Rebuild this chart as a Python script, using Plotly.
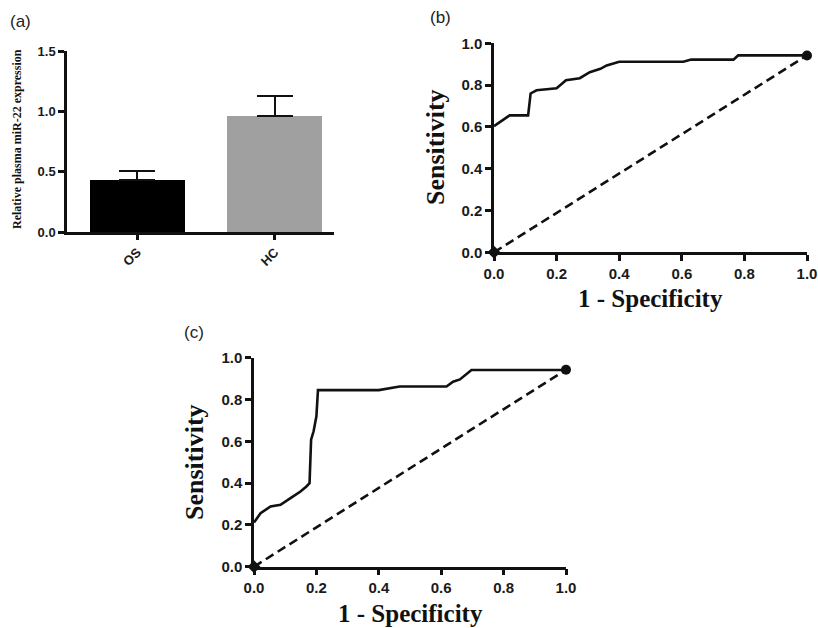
import plotly.graph_objects as go

# ---------------- data ----------------
groups = ["OS", "HC"]
mean_expr = [0.43, 0.96]
sem_expr = [0.075, 0.17]
bar_colors = ["#000000", "#a0a0a0"]

roc_b_fpr = [0.0, 0.05, 0.109, 0.117, 0.136, 0.20, 0.23, 0.274, 0.306, 0.34, 0.36, 0.40, 0.605, 0.63, 0.765, 0.78, 1.0]
roc_b_tpr = [0.604, 0.655, 0.655, 0.76, 0.775, 0.785, 0.823, 0.833, 0.862, 0.878, 0.894, 0.912, 0.912, 0.922, 0.922, 0.942, 0.942]

roc_c_fpr = [0.0, 0.021, 0.053, 0.085, 0.117, 0.149, 0.168, 0.178, 0.183, 0.191, 0.20, 0.205, 0.40, 0.467, 0.617, 0.638, 0.66, 0.697, 1.0]
roc_c_tpr = [0.211, 0.256, 0.288, 0.296, 0.328, 0.36, 0.384, 0.40, 0.608, 0.648, 0.72, 0.845, 0.845, 0.862, 0.862, 0.885, 0.896, 0.941, 0.941]

ref_x = [0.0, 1.0]
ref_y = [0.0, 0.942]

roc_ticks = [0.0, 0.2, 0.4, 0.6, 0.8, 1.0]
roc_tick_text = ["0.0", "0.2", "0.4", "0.6", "0.8", "1.0"]
bar_ticks = [0.0, 0.5, 1.0, 1.5]
bar_tick_text = ["0.0", "0.5", "1.0", "1.5"]

W, H = 818, 628


def xd(a, b):
    return [a / W, b / W]


def yd(top, bottom):
    return [1 - bottom / H, 1 - top / H]


fig = go.Figure()

# ---- panel (a): bars ----
fig.add_trace(go.Bar(
    x=[0, 1], y=mean_expr, width=0.69,
    marker=dict(color=bar_colors, line=dict(width=0)),
    error_y=dict(type="data", symmetric=False, array=sem_expr,
                 arrayminus=[0, 0], color="#111111", thickness=2, width=18),
    xaxis="x", yaxis="y", showlegend=False,
))


def roc_panel(xa, ya, fpr, tpr):
    fig.add_trace(go.Scatter(x=ref_x, y=ref_y, mode="lines",
                             line=dict(color="#111111", width=2.6, dash="9px,5px"),
                             xaxis=xa, yaxis=ya, showlegend=False, cliponaxis=False))
    fig.add_trace(go.Scatter(x=fpr, y=tpr, mode="lines",
                             line=dict(color="#111111", width=2.6),
                             xaxis=xa, yaxis=ya, showlegend=False, cliponaxis=False))
    fig.add_trace(go.Scatter(x=[ref_x[0]], y=[ref_y[0]], mode="markers",
                             marker=dict(symbol="diamond", size=10, color="#111111"),
                             xaxis=xa, yaxis=ya, showlegend=False, cliponaxis=False))
    fig.add_trace(go.Scatter(x=[ref_x[1]], y=[ref_y[1]], mode="markers",
                             marker=dict(symbol="circle", size=10, color="#111111"),
                             xaxis=xa, yaxis=ya, showlegend=False, cliponaxis=False))


roc_panel("x2", "y2", roc_b_fpr, roc_b_tpr)
roc_panel("x3", "y3", roc_c_fpr, roc_c_tpr)

SANS = "Liberation Sans, Arial, sans-serif"
SERIF = "Liberation Serif, Times New Roman, serif"


def tf(size):
    return dict(size=size, family=SANS, color="#1a1a1a", weight="bold")


def axis(**kw):
    d = dict(showline=True, linecolor="#111111", linewidth=2.5,
             ticks="outside", ticklen=6, tickwidth=2.5, tickcolor="#111111",
             showgrid=False, zeroline=False, fixedrange=True, automargin=False)
    d.update(kw)
    return d


fig.update_layout(
    template="none",
    width=W, height=H,
    margin=dict(l=0, r=0, t=0, b=0),
    paper_bgcolor="white", plot_bgcolor="white",
    bargap=0,
    xaxis=axis(domain=xd(67, 334), range=[-0.51, 1.43], anchor="y",
               tickvals=[0, 1], ticktext=groups, tickangle=-45, ticklen=5,
               tickfont=tf(13)),
    yaxis=axis(domain=yd(51, 232), range=[0, 1.5], anchor="x",
               tickvals=bar_ticks, ticktext=bar_tick_text, tickfont=tf(13)),
    xaxis2=axis(domain=xd(494, 807), range=[0, 1], anchor="y2",
                tickvals=roc_ticks, ticktext=roc_tick_text, tickfont=tf(15)),
    yaxis2=axis(domain=yd(43.3, 252.3), range=[0, 1], anchor="x2",
                tickvals=roc_ticks, ticktext=roc_tick_text, tickfont=tf(15)),
    xaxis3=axis(domain=xd(254, 566), range=[0, 1], anchor="y3",
                tickvals=roc_ticks, ticktext=roc_tick_text, tickfont=tf(15)),
    yaxis3=axis(domain=yd(357.7, 566.7), range=[0, 1], anchor="x3",
                tickvals=roc_ticks, ticktext=roc_tick_text, tickfont=tf(15)),
)

ann = []


def add_text(x, y, text, size, family, angle=0, bold=False, color="#111111"):
    t = f"<b>{text}</b>" if bold else text
    ann.append(dict(x=x / W, y=1 - y / H, xref="paper", yref="paper", text=t,
                    showarrow=False, textangle=angle, xanchor="center", yanchor="middle",
                    font=dict(size=size, family=family, color=color)))


# panel labels
add_text(20, 22, "(a)", 17, SANS, color="#222222")
add_text(441, 18, "(b)", 17, SANS, color="#222222")
add_text(194, 332, "(c)", 17, SANS, color="#222222")

# axis titles
add_text(17, 139, "Relative plasma miR-22 expression", 12, SERIF, angle=-90, bold=True)
add_text(435, 147, "Sensitivity", 26, SERIF, angle=-90, bold=True)
add_text(650, 298, "1 - Specificity", 25, SERIF, bold=True)
add_text(195, 462, "Sensitivity", 26, SERIF, angle=-90, bold=True)
add_text(410, 613, "1 - Specificity", 25, SERIF, bold=True)

fig.update_layout(annotations=ann)

fig.write_html(
    "out.html",
    config={"displayModeBar": False},
    post_script="document.body.style.margin='0';document.body.style.overflow='hidden';",
)
